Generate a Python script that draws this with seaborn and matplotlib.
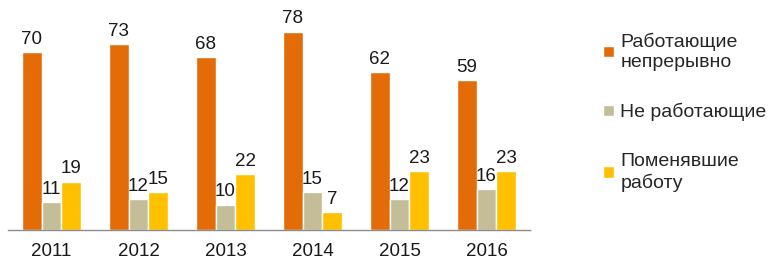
import matplotlib
matplotlib.use("Agg")
import matplotlib.pyplot as plt
import seaborn as sns
import pandas as pd
import numpy as np

years = ["2011", "2012", "2013", "2014", "2015", "2016"]
series_names = ["Работающие\nнепрерывно", "Не работающие", "Поменявшие\nработу"]
working = [70, 73, 68, 78, 62, 59]
not_working = [11, 12, 10, 15, 12, 16]
changed = [19, 15, 22, 7, 23, 23]
colors = ["#E36C09", "#C4BD97", "#FFC000"]

df = pd.DataFrame({
    "year": years * 3,
    "series": [series_names[0]] * 6 + [series_names[1]] * 6 + [series_names[2]] * 6,
    "value": working + not_working + changed,
})

sns.set_theme(style="white")
plt.rcParams["font.family"] = ["Liberation Sans", "DejaVu Sans"]

fig = plt.figure(figsize=(7.7, 2.7), dpi=100)
ax = fig.add_axes([8 / 770, 40 / 270, 522 / 770, 229 / 270])

sns.barplot(data=df, x="year", y="value", hue="series", palette=colors,
            width=0.68, ax=ax, saturation=1, legend=True)

for cont in ax.containers:
    ax.bar_label(cont, padding=3, fontsize=13.5, color="#1a1a1a")

ax.set_ylim(0, 90)
ax.set_xlim(-0.5, 5.5)
ax.set_xlabel("")
ax.set_ylabel("")
ax.set_yticks([])
for s in ["top", "right", "left"]:
    ax.spines[s].set_visible(False)
ax.spines["bottom"].set_color("#8c8c8c")
ax.spines["bottom"].set_linewidth(1)
ax.tick_params(axis="x", which="major", length=0, labelsize=13.5, pad=9, colors="#1a1a1a")
ax.set_xticks(np.arange(-0.5, 6, 1), minor=True)
ax.tick_params(axis="x", which="minor", length=5, color="#8c8c8c", width=1, direction="out")

handles, labels = ax.get_legend_handles_labels()
ax.legend(handles, labels, loc="upper left", bbox_to_anchor=(603 / 770, 237 / 270),
          bbox_transform=fig.transFigure, frameon=False, fontsize=14,
          handlelength=0.55, handleheight=0.55, handletextpad=0.35,
          labelspacing=1.65, borderaxespad=0, borderpad=0)

fig.savefig("out.png", dpi=100)
